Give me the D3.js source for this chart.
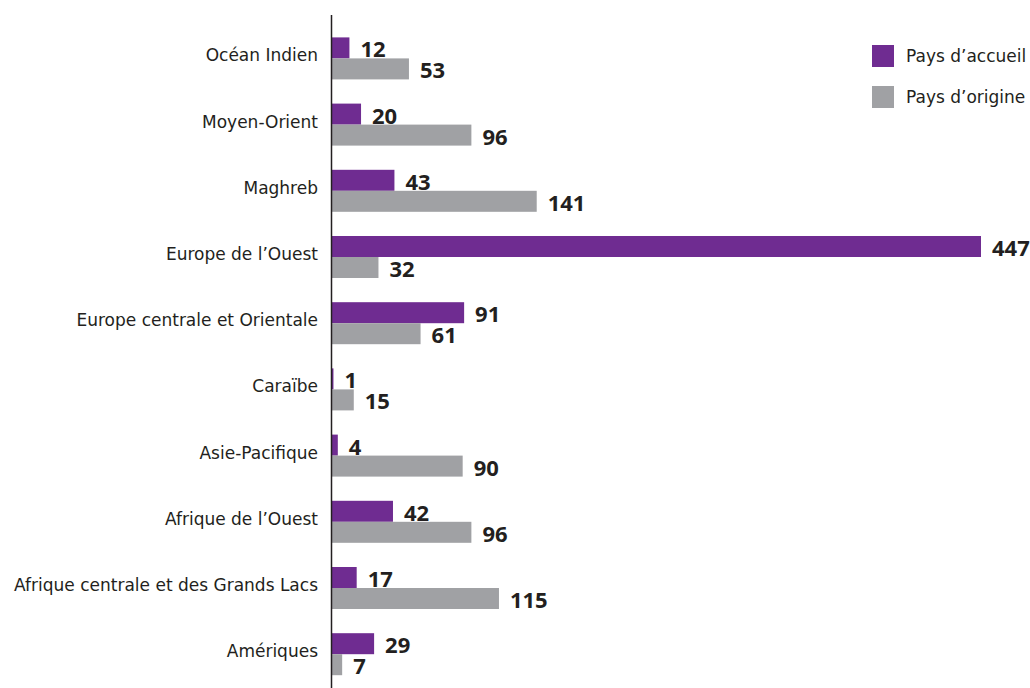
<!DOCTYPE html>
<html>
<head>
<meta charset="utf-8">
<script src="https://cdn.jsdelivr.net/npm/d3@7"></script>
<style>
  body { margin: 0; background: #fff; }
  svg { display: block; }
  text { font-family: "DejaVu Sans", "Noto Sans", sans-serif; fill: #231f20; }
  text.num { font-family: "Noto Sans", "Open Sans", sans-serif; }
</style>
</head>
<body>
<div id="chart"></div>
<script>
// data
var categories = ["Océan Indien", "Moyen-Orient", "Maghreb", "Europe de l\u2019Ouest",
  "Europe centrale et Orientale", "Caraïbe", "Asie-Pacifique", "Afrique de l\u2019Ouest",
  "Afrique centrale et des Grands Lacs", "Amériques"];
var accueil = [12, 20, 43, 447, 91, 1, 4, 42, 17, 29];
var origine = [53, 96, 141, 32, 61, 15, 90, 96, 115, 7];
var seriesNames = ["Pays d\u2019accueil", "Pays d\u2019origine"];
var colors = ["#6f2c91", "#a0a1a4"];

var w = 1030, h = 688;
var x0 = 332, barH = 21;

var svg = d3.select("#chart").append("svg")
    .attr("width", w).attr("height", h);

var x = d3.scaleLinear().domain([0, 447]).range([x0, 981]);
var y = d3.scaleBand().domain(categories).range([25.3, 687.3]);

var rows = categories.map(function(c, i) {
  return { cat: c, vals: [accueil[i], origine[i]] };
});

var g = svg.selectAll("g.row")
    .data(rows).enter().append("g")
    .attr("class", "row")
    .attr("transform", function(d) { return "translate(0," + (y(d.cat) + y.bandwidth() / 2) + ")"; });

// bars: accueil above the centre line, origine below
g.each(function(d) {
  var row = d3.select(this);
  d.vals.forEach(function(v, k) {
    var top = k == 0 ? -barH : 0;
    row.append("rect")
      .attr("x", x0)
      .attr("y", top)
      .attr("width", x(v) - x0)
      .attr("height", barH)
      .attr("fill", colors[k]);
    row.append("text")
      .attr("class", "num")
      .attr("x", x(v) + 11)
      .attr("y", top + barH - 1)
      .attr("font-size", "22px")
      .attr("font-weight", "bold")
      .text(v);
  });
  row.append("text")
    .attr("x", 318)
    .attr("y", -3)
    .attr("dy", "0.35em")
    .attr("text-anchor", "end")
    .attr("font-size", "17px")
    .text(d.cat);
});

// vertical axis line
svg.append("line")
  .attr("x1", x0 - 0.5).attr("x2", x0 - 0.5)
  .attr("y1", 15).attr("y2", h)
  .attr("stroke", "#231f20")
  .attr("stroke-width", 1.5);

// legend
var lg = svg.selectAll("g.legend")
    .data(seriesNames).enter().append("g")
    .attr("class", "legend")
    .attr("transform", function(d, i) { return "translate(872," + (45 + i * 41) + ")"; });
lg.append("rect")
  .attr("width", 22).attr("height", 22)
  .attr("fill", function(d, i) { return colors[i]; });
lg.append("text")
  .attr("x", 34).attr("y", 11)
  .attr("dy", "0.35em")
  .attr("font-size", "17px")
  .text(function(d) { return d; });
</script>
</body>
</html>
